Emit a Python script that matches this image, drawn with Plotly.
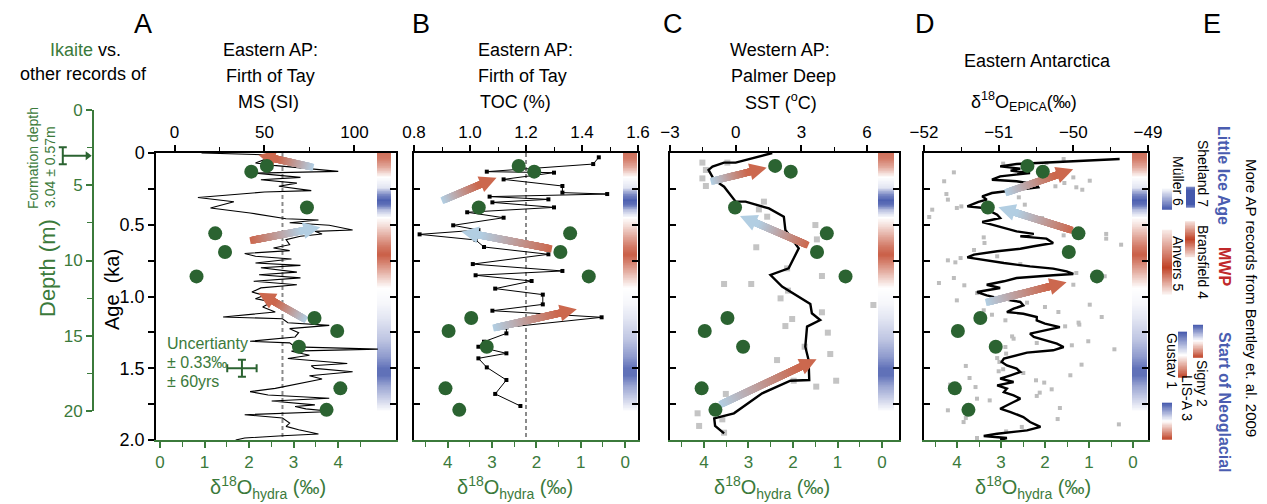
import numpy as np
import plotly.graph_objects as go

# the page body has an 8 px margin: the figure is drawn 8 px smaller and shifted
OFF = 8
W, H = 1267 - OFF, 504 - OFF
FONT = "Liberation Sans, Arial, Helvetica, sans-serif"
GREEN = "#3b7a3b"
DOT_GREEN = "#2b6331"
BLUE_TXT = "#4a5db0"
RED_TXT = "#c0282a"

# ---------------- data ----------------
# ikaite hydration-water d18O (bottom axes) vs age
hydra_age = [0.09, 0.13, 0.38, 0.56, 0.69, 0.86, 1.15, 1.24, 1.35, 1.64, 1.79]
hydra_d18o = [2.40, 2.05, 3.30, 1.24, 1.46, 0.82, 3.47, 3.98, 3.12, 4.05, 3.74]
uncert_d18o, uncert_age = 1.84, 1.50
uncert_err_d18o, uncert_err_age = 0.33, 0.06
formation_depth, formation_err = 3.04, 0.57

# A: magnetic susceptibility, Firth of Tay
ms_age = [0.00, 0.012, 0.046, 0.07, 0.086, 0.128, 0.14, 0.17, 0.186, 0.21, 0.232, 0.262, 0.272, 0.31, 0.34,
          0.383, 0.418, 0.44, 0.458, 0.467, 0.486, 0.504, 0.537, 0.546, 0.564, 0.58, 0.604, 0.639, 0.662, 0.68,
          0.70, 0.72, 0.739, 0.767, 0.783, 0.80, 0.83, 0.848, 0.87, 0.894, 0.918, 0.94, 0.969, 0.992, 1.015,
          1.038, 1.073, 1.108, 1.143, 1.155, 1.183, 1.201, 1.224, 1.252, 1.282, 1.312, 1.323, 1.351, 1.367,
          1.381, 1.409, 1.432, 1.467, 1.483, 1.501, 1.524, 1.552, 1.575, 1.605, 1.64, 1.663, 1.686, 1.709,
          1.728, 1.755, 1.767, 1.783, 1.801, 1.824, 1.847, 1.882, 1.905, 1.928, 1.958, 1.97, 1.986, 2.0]
ms_val = [15, 50, 50, 45, 55, 91, 45, 70, 48, 68, 58, 76, 50, 13, 33, 20, 42, 53, 62, 80, 64, 86, 99, 78, 82,
          70, 62, 64, 55, 64, 39, 45, 65, 45, 70, 48, 68, 47, 70, 44, 68, 48, 43, 50, 45, 54, 49, 56, 27, 60,
          63, 86, 64, 69, 67, 42, 64, 67, 113, 65, 75, 63, 96, 76, 78, 99, 75, 82, 69, 56, 42, 52, 86, 54, 78,
          67, 73, 88, 39, 60, 64, 62, 69, 80, 60, 39, 34]
ms_mean = 60

# B: total organic carbon, Firth of Tay
toc_age = [0.030, 0.077, 0.130, 0.137, 0.184, 0.230, 0.276, 0.286, 0.304, 0.323, 0.344, 0.379, 0.413, 0.451,
           0.504, 0.537, 0.567, 0.606, 0.655, 0.706, 0.774, 0.822, 0.852, 0.892, 0.945, 0.987, 1.055, 1.099,
           1.145, 1.215, 1.257, 1.315, 1.350, 1.396, 1.431, 1.494, 1.582, 1.679, 1.763]
toc_val = [1.46, 1.44, 1.06, 1.30, 1.12, 1.33, 1.33, 1.49, 1.07, 1.28, 1.08, 1.30, 0.99, 1.12, 0.94, 1.03,
           0.82, 1.02, 1.05, 1.28, 1.01, 1.33, 1.02, 1.22, 1.09, 1.26, 1.26, 1.08, 1.47, 1.13, 1.13, 1.05,
           1.03, 1.13, 1.03, 1.06, 1.13, 1.09, 1.18]
toc_mean = 1.2

# C: SST, Palmer Deep
sst_age = [0.0, 0.067, 0.067, 0.095, 0.118, 0.188, 0.235, 0.339, 0.339, 0.386, 0.444, 0.537, 0.664, 0.804,
           0.850, 0.931, 1.052, 1.117, 1.164, 1.210, 1.350, 1.443, 1.582, 1.587, 1.675, 1.814, 1.849, 1.902, 1.954]
sst_val = [1.67, 0.0, -0.53, -1.06, -1.24, -0.98, -0.53, 0.0, 0.45, 1.52, 2.2, 2.27, 2.88, 2.42, 1.59, 2.12,
           3.41, 3.48, 3.86, 3.26, 3.18, 3.33, 3.36, 2.5, 1.21, -0.08, -0.98, -0.94, -0.53]
sst_pts_age = [0.067, 0.067, 0.118, 0.177, 0.230, 0.339, 0.393, 0.444, 0.502, 0.602, 0.657, 0.804, 0.857,
               0.913, 0.913, 0.959, 1.013, 1.059, 1.110, 1.157, 1.206, 1.252, 1.350, 1.401, 1.443, 1.587,
               1.587, 1.628, 1.679, 1.814, 1.856, 1.902, 1.949]
sst_pts_val = [-1.52, -0.38, -1.36, -1.52, -1.36, 1.29, 1.06, 1.44, 3.64, 3.71, 0.94, 2.35, 3.94, -0.53, 0.71,
               2.39, 2.05, 6.29, 3.94, 2.58, 2.27, 4.21, 3.15, 4.32, 1.89, 4.59, 2.65, 3.68, -0.45, -1.74,
               -0.61, -1.67, -0.53]

# D: EPICA d18O
epica_age = [0.042, 0.077, 0.093, 0.109, 0.123, 0.139, 0.163, 0.186, 0.197, 0.221, 0.239, 0.256, 0.279,
             0.302, 0.325, 0.341, 0.360, 0.372, 0.383, 0.407, 0.430, 0.453, 0.481, 0.499, 0.523, 0.546,
             0.564, 0.581, 0.597, 0.616, 0.627, 0.650, 0.667, 0.685, 0.708, 0.727, 0.743, 0.767, 0.790,
             0.806, 0.825, 0.843, 0.852, 0.871, 0.894, 0.918, 0.941,
             0.969, 0.992, 1.015, 1.038, 1.062, 1.085, 1.108, 1.120, 1.143, 1.166, 1.189, 1.213, 1.236,
             1.259, 1.282, 1.305, 1.329, 1.352, 1.375, 1.391, 1.410, 1.433, 1.456, 1.480, 1.503, 1.526,
             1.549, 1.572, 1.596, 1.619, 1.642, 1.666, 1.689, 1.712, 1.735, 1.758, 1.782, 1.805, 1.840,
             1.875, 1.909, 1.933, 1.956, 1.972, 1.986, 2.0]
epica_val = [-49.38, -50.76, -50.98, -50.71, -50.84, -50.58, -50.98, -51.09, -50.76, -50.49, -50.47, -50.71,
             -51.09, -51.22, -51.16, -51.27, -51.38, -51.42, -51.20, -51.11, -51.02, -50.98, -51.22, -51.09,
             -50.93, -50.76, -50.53, -50.71, -50.36, -50.31, -50.27, -50.53, -50.71, -51.02, -51.33, -51.42,
             -51.24, -50.93, -50.58, -50.27, -50.09, -50.00, -50.27, -50.76, -50.93, -51.16, -50.98,
             -51.29, -51.16, -50.98, -50.71, -50.67, -50.80, -50.89, -50.67, -50.49, -50.49, -50.38, -50.18,
             -50.36, -50.58, -50.53, -50.36, -50.22, -50.13, -50.27, -50.62, -50.76, -50.93, -50.96, -50.89,
             -50.76, -50.71, -50.84, -50.98, -50.80, -51.02, -50.89, -50.93, -50.80, -50.71, -50.80, -50.89,
             -50.98, -50.84, -50.67, -50.58, -50.44, -50.62, -51.02, -51.20, -50.89, -50.98]
epica_pts_age = [0.042, 0.070, 0.074, 0.135, 0.197, 0.170, 0.193, 0.209, 0.232, 0.239, 0.256, 0.286, 0.325,
                 0.309, 0.383, 0.372, 0.395, 0.446, 0.360, 0.453, 0.574, 0.564, 0.597, 0.639, 0.588, 0.627,
                 0.676, 0.720, 0.732, 0.748, 0.762, 0.774, 0.871, 0.922, 0.906, 0.836, 0.859, 0.918, 0.976,
                 1.027, 1.096, 1.127, 1.166, 1.043, 1.073, 1.108, 1.057, 1.143, 1.182, 1.196, 1.208, 1.278,
                 1.294, 1.324, 1.312, 1.340, 1.368, 1.352, 1.398, 1.429, 1.456, 1.521, 1.507, 1.484, 1.533,
                 1.475, 1.549, 1.568, 1.584, 1.600, 1.614, 1.631, 1.647, 1.670, 1.693, 1.712, 1.724, 1.777,
                 1.793, 1.847, 1.875, 1.854, 1.891, 1.940, 1.909, 1.986]
epica_pts_val = [-50.13, -50.36, -50.94, -51.60, -51.73, -50.00, -49.78, -50.12, -50.24, -49.96, -49.88,
                 -51.70, -51.68, -50.73, -51.56, -51.50, -51.89, -51.93, -50.65, -50.42, -50.13, -49.56,
                 -49.56, -49.36, -51.20, -51.19, -51.33, -51.02, -51.51, -51.68, -51.58, -50.71, -51.60,
                 -51.46, -51.80, -49.96, -49.58, -50.00, -51.29, -51.56, -51.20, -51.09, -50.91, -50.62,
                 -50.38, -50.20, -49.78, -49.62, -49.93, -49.92, -50.11, -50.82, -50.80, -50.49, -49.80,
                 -50.02, -49.45, -50.91, -50.90, -51.02, -50.99, -51.00, -50.94, -51.44, -50.67, -49.89,
                 -50.04, -51.39, -50.50, -50.39, -51.65, -51.31, -50.29, -50.45, -50.49, -51.29, -51.12,
                 -50.18, -51.68, -51.44, -51.47, -50.21, -49.39, -50.90, -50.69, -51.29]

# climate-anomaly strip (red = warm / MWP, blue = cold / LIA, Neoglacial)
strip_age = [0.00, 0.04, 0.10, 0.17, 0.24, 0.29, 0.33, 0.36, 0.40, 0.45, 0.50, 0.58, 0.65, 0.71, 0.78,
             0.86, 0.94, 1.05, 1.15, 1.30, 1.42, 1.50, 1.55, 1.62, 1.72, 1.80, 2.00]
strip_val = [0.75, 0.7, 0.45, 0.0, -0.15, -0.7, -0.95, -0.85, -0.35, 0.0, 0.15, 0.45, 0.7, 0.85, 0.6,
             0.3, 0.0, -0.05, -0.15, -0.35, -0.6, -0.85, -0.85, -0.55, -0.25, 0.0, 0.0]

# arrows (bottom-axis units): panel, tail d18O, tail age, head d18O, head age, colour order
arrow_panel = [0, 0, 0, 1, 1, 1, 2, 2, 2, 3, 3, 3]
arrow_tail_d = [3.37, 2.10, 3.22, 4.06, 1.73, 2.90, 3.77, 1.73, 3.57, 2.83, 1.45, 3.27]
arrow_tail_a = [0.095, 0.606, 1.152, 0.323, 0.664, 1.215, 0.193, 0.634, 1.744, 0.270, 0.532, 1.036]
arrow_head_d = [2.21, 3.60, 2.21, 2.90, 3.69, 1.09, 2.59, 3.19, 1.47, 1.36, 3.06, 1.51]
arrow_head_a = [0.014, 0.518, 0.974, 0.172, 0.548, 1.089, 0.102, 0.439, 1.438, 0.114, 0.378, 0.901]
arrow_kind = ['br', 'rb', 'br', 'br', 'rb', 'br', 'br', 'rb', 'br', 'br', 'rb', 'br']

# panel E: other AP records (Bentley et al. 2009)
rec_names = ['Shetland 7', 'Müller 6', 'Bransfield 4', 'Anvers 5', 'Signy 2', 'LIS-A 3', 'Gustav 1']
rec_age = [[0.237, 0.26, 0.36, 0.383], [0.244, 0.397], [0.477, 0.60, 0.721], [0.537, 0.80, 0.990],
           [1.199, 1.31, 1.429], [1.247, 1.41, 1.568], [1.742, 1.87, 2.0]]
rec_val = [[-0.7, -1.0, -1.0, -0.7], [0.0, -1.0], [0.15, 1.0, 0.15], [0.1, 1.0, 0.05],
           [-1.0, 0.0, 1.0], [-1.0, 0.0, 1.0], [-1.0, 0.0, 1.0]]
rec_col_px = [(36, 45), (12, 22), (35, 45), (12, 22), (43, 53), (28, 37), (12, 22)]

# ---------------- geometry (page pixels) ----------------
PANEL_PX = [(156, 396), (414, 638), (670, 899), (924, 1148)]
Y_TOP, Y_BOT = 153, 440
TOP_RANGE = [[-10.3, 123.1], [0.8, 1.6], [-3.0, 7.46], [-52.0, -49.0]]
BOT_RANGE = [[-0.09, 5.30], [4.76, -0.29], [4.76, -0.38], [4.75, -0.34]]
STRIP_PX = [(377, 391), (623, 637), (878, 894), (1132, 1147)]


def fx(px):
    return (px - OFF) / W


def fy(py):
    return 1 - (py - OFF) / H


xt = ['x', 'x3', 'x5', 'x7']
xb = ['x2', 'x4', 'x6', 'x8']
ya = ['y', 'y2', 'y3', 'y4']

fig = go.Figure()
CS = [[0, 'rgb(68,88,172)'], [0.5, 'rgb(255,255,255)'], [1, 'rgb(192,66,38)']]

# strips
grid = np.arange(0, 2.0001, 0.005)
strip_fine = np.interp(grid, strip_age, strip_val)
for i in range(4):
    L, R = PANEL_PX[i]
    t0, t1 = TOP_RANGE[i]
    a, b = STRIP_PX[i]
    xe = [t0 + (a - L) / (R - L) * (t1 - t0), t0 + (b - L) / (R - L) * (t1 - t0)]
    fig.add_trace(go.Heatmap(x=xe, y=grid, z=strip_fine.reshape(-1, 1), colorscale=CS, zmin=-1, zmax=1,
                             showscale=False, xaxis=xt[i], yaxis=ya[i], hoverinfo='skip'))

# mean lines
for i, m in [(0, ms_mean), (1, toc_mean)]:
    fig.add_trace(go.Scatter(x=[m, m], y=[0, 2], mode='lines', xaxis=xt[i], yaxis=ya[i],
                             line=dict(color='#8a8a8a', width=2, dash='4px,3px')))

# records
fig.add_trace(go.Scatter(x=ms_val, y=ms_age, mode='lines', xaxis='x', yaxis='y',
                         line=dict(color='black', width=1.1)))
fig.add_trace(go.Scatter(x=toc_val, y=toc_age, mode='lines+markers', xaxis='x3', yaxis='y2',
                         line=dict(color='black', width=1),
                         marker=dict(symbol='square', size=4, color='black')))
fig.add_trace(go.Scatter(x=sst_pts_val, y=sst_pts_age, mode='markers', xaxis='x5', yaxis='y3',
                         marker=dict(symbol='square', size=6, color='#c4c4c4')))
fig.add_trace(go.Scatter(x=sst_val, y=sst_age, mode='lines', xaxis='x5', yaxis='y3',
                         line=dict(color='black', width=2.4)))
fig.add_trace(go.Scatter(x=epica_pts_val, y=epica_pts_age, mode='markers', xaxis='x7', yaxis='y4',
                         marker=dict(symbol='square', size=4, color='#bdbdbd')))
fig.add_trace(go.Scatter(x=epica_val, y=epica_age, mode='lines', xaxis='x7', yaxis='y4',
                         line=dict(color='black', width=2.4)))

# gradient arrows
C_BLUE = np.array([178, 206, 226])
C_RED = np.array([204, 104, 78])


def rgb(c):
    return 'rgb(%d,%d,%d)' % tuple(int(round(v)) for v in c)


for k in range(len(arrow_panel)):
    i = arrow_panel[k]
    L, R = PANEL_PX[i]
    b0, b1 = BOT_RANGE[i]

    def to_px(d, a):
        return L + (d - b0) / (b1 - b0) * (R - L), Y_TOP + a * (Y_BOT - Y_TOP) / 2.0

    def to_data(px, py):
        return b0 + (px - L) / (R - L) * (b1 - b0), (py - Y_TOP) / (Y_BOT - Y_TOP) * 2.0

    tx, ty = to_px(arrow_tail_d[k], arrow_tail_a[k])
    hx, hy = to_px(arrow_head_d[k], arrow_head_a[k])
    dx, dy = hx - tx, hy - ty
    ln = float(np.hypot(dx, dy))
    ux, uy = dx / ln, dy / ln
    nx, ny = -uy, ux
    c0, c1 = (C_BLUE, C_RED) if arrow_kind[k] == 'br' else (C_RED, C_BLUE)
    head_len = min(17.0, 0.4 * ln)
    hw = head_len * 0.5
    s = np.arange(0, ln - head_len * 0.8, 1.0)
    cols = [rgb(c0 + (c1 - c0) * min(1.0, si / (ln - head_len))) for si in s]
    pts = [to_data(tx + ux * si, ty + uy * si) for si in s]
    ang = float(np.degrees(np.arctan2(uy, ux)))
    fig.add_trace(go.Scatter(x=[p[0] for p in pts], y=[p[1] for p in pts], mode='markers',
                             xaxis=xb[i], yaxis=ya[i], hoverinfo='skip',
                             marker=dict(symbol='square', size=7, color=cols, angle=ang,
                                         line=dict(width=0))))
    bx, by = hx - ux * head_len, hy - uy * head_len
    poly = [(hx, hy), (bx + nx * hw, by + ny * hw), (bx - nx * hw, by - ny * hw), (hx, hy)]
    poly = [to_data(*p) for p in poly]
    fig.add_trace(go.Scatter(x=[p[0] for p in poly], y=[p[1] for p in poly], mode='lines', fill='toself',
                             fillcolor=rgb(c1), line=dict(width=0, color=rgb(c1)),
                             xaxis=xb[i], yaxis=ya[i], hoverinfo='skip'))

# ikaite dots
for i in range(4):
    fig.add_trace(go.Scatter(x=hydra_d18o, y=hydra_age, mode='markers', xaxis=xb[i], yaxis=ya[i],
                             marker=dict(size=14, color=DOT_GREEN)))

# uncertainty cross
fig.add_trace(go.Scatter(x=[uncert_d18o], y=[uncert_age], mode='markers', xaxis='x2', yaxis='y',
                         marker=dict(size=1, color='rgba(0,0,0,0)'),
                         error_x=dict(type='data', array=[uncert_err_d18o], color=DOT_GREEN, thickness=2, width=4),
                         error_y=dict(type='data', array=[uncert_err_age], color=DOT_GREEN, thickness=2, width=4)))

# empty trace for A right axis
fig.add_trace(go.Scatter(x=[None], y=[None], xaxis='x', yaxis='y5', showlegend=False))

# panel E record bars
for n in range(len(rec_names)):
    g = np.arange(rec_age[n][0], rec_age[n][-1] + 1e-9, 0.004)
    zz = np.interp(g, rec_age[n], rec_val[n])
    fig.add_trace(go.Heatmap(x=list(rec_col_px[n]), y=g, z=zz.reshape(-1, 1), colorscale=CS, zmin=-1, zmax=1,
                             showscale=False, xaxis='x9', yaxis='y6', hoverinfo='skip'))

# formation depth marker
fig.add_trace(go.Scatter(x=[0.43, 0.88], y=[formation_depth, formation_depth], mode='lines',
                         xaxis='x10', yaxis='y7', line=dict(color=DOT_GREEN, width=2)))
fig.add_trace(go.Scatter(x=[0.9], y=[formation_depth], mode='markers', xaxis='x10', yaxis='y7',
                         marker=dict(symbol='triangle-right', size=8, color=DOT_GREEN)))
fig.add_trace(go.Scatter(x=[0.43], y=[formation_depth], mode='markers', xaxis='x10', yaxis='y7',
                         marker=dict(size=1, color='rgba(0,0,0,0)'),
                         error_y=dict(type='data', array=[formation_err], color=DOT_GREEN, thickness=2, width=4)))

# ---------------- layout ----------------
ydom = [fy(Y_BOT), fy(Y_TOP)]
layout = dict(width=W, height=H, margin=dict(l=0, r=0, t=0, b=0, pad=0, autoexpand=False),
              paper_bgcolor='white', plot_bgcolor='rgba(0,0,0,0)', showlegend=False,
              font=dict(family=FONT, size=17, color='black'))

top_tick = [(0, 50, 25, None), (0.8, 0.2, 0.1, '.1f'), (-3, 3, 1.5, None), (-52, 1, 0.5, None)]
for i in range(4):
    L, R = PANEL_PX[i]
    kx = 'xaxis' if i == 0 else 'xaxis%d' % (2 * i + 1)
    kb = 'xaxis%d' % (2 * i + 2)
    ky = 'yaxis' if i == 0 else 'yaxis%d' % (i + 1)
    t0, dt, mn, fmt = top_tick[i]
    ax = dict(domain=[fx(L), fx(R)], range=TOP_RANGE[i], side='top', anchor=ya[i], showline=True,
              linecolor='black', linewidth=1.5, ticks='outside', ticklen=6, tickwidth=1.5, tickcolor='black',
              tickmode='linear', tick0=t0, dtick=dt, showgrid=False, zeroline=False, automargin=False,
              minor=dict(tick0=t0, dtick=mn, ticks='outside', ticklen=4, tickcolor='black', tickwidth=1.2),
              tickfont=dict(size=17, color='black'))
    if fmt:
        ax['tickformat'] = fmt
    layout[kx] = ax
    layout[kb] = dict(overlaying=xt[i], side='bottom', anchor=ya[i], range=BOT_RANGE[i], showline=True,
                      linecolor=GREEN, linewidth=2, ticks='outside', ticklen=6, tickwidth=1.5, tickcolor=GREEN,
                      tickmode='array', tickvals=[0, 1, 2, 3, 4], showgrid=False, zeroline=False,
                      automargin=False,
                      minor=dict(tickmode='array', tickvals=[0.5, 1.5, 2.5, 3.5, 4.5], ticks='outside',
                                 ticklen=5, tickcolor=GREEN, tickwidth=1.2),
                      tickfont=dict(size=17, color=GREEN))
    layout[ky] = dict(domain=ydom, range=[2, 0], anchor=xt[i], showline=True, linecolor='black', linewidth=1.5,
                      mirror=False if i == 0 else 'ticks', ticks='outside' if i == 0 else 'inside',
                      ticklen=6, tickwidth=1.5, tickcolor='black', tickmode='array',
                      tickvals=[0, 0.5, 1, 1.5, 2], ticktext=['0', '0.5', '1.0', '1.5', '2.0'],
                      showticklabels=(i == 0), showgrid=False, zeroline=False, automargin=False,
                      minor=dict(tickmode='array', tickvals=[0.25, 0.75, 1.25, 1.75],
                                 ticks='outside' if i == 0 else 'inside', ticklen=6, tickcolor='black',
                                 tickwidth=1.5),
                      tickfont=dict(size=18, color='black'))

layout['yaxis5'] = dict(overlaying='y', side='right', anchor='x', range=[2, 0], showline=True, linecolor='black',
                        linewidth=1.5, ticks='inside', ticklen=6, tickwidth=1.5, tickcolor='black',
                        tickmode='array', tickvals=[0, 0.25, 0.5, 0.75, 1, 1.25, 1.5, 1.75, 2],
                        showticklabels=False, showgrid=False, zeroline=False, automargin=False)
layout['xaxis9'] = dict(domain=[fx(1150), fx(1259)], range=[0, 109], visible=False, anchor='y6')
layout['yaxis6'] = dict(domain=ydom, range=[2, 0], visible=False, anchor='x9')
layout['xaxis10'] = dict(domain=[fx(40), fx(93)], range=[0, 1], visible=False, anchor='y7')
layout['yaxis7'] = dict(domain=[fy(411), fy(110)], range=[20, 0], anchor='free', position=fx(93), side='left',
                        showline=True, linecolor=GREEN, linewidth=2, ticks='outside', ticklen=6, tickwidth=1.5,
                        tickcolor=GREEN, tickmode='array', tickvals=[0, 5, 10, 15, 20], showgrid=False,
                        zeroline=False, automargin=False,
                        minor=dict(tickmode='array', tickvals=[2.5, 7.5, 12.5, 17.5], ticks='outside',
                                   ticklen=5, tickcolor=GREEN, tickwidth=1.2),
                        tickfont=dict(size=17, color=GREEN))

anns = []


def ann(text, px, py, size=18, color='black', angle=0, xanchor='center'):
    anns.append(dict(text=text, x=fx(px), y=fy(py), xref='paper', yref='paper', showarrow=False,
                     xanchor=xanchor, yanchor='middle', textangle=angle,
                     font=dict(family=FONT, size=size, color=color)))


for lab, px in [('A', 143), ('B', 421), ('C', 673), ('D', 925), ('E', 1212)]:
    ann(lab, px, 24, size=27)
ann('<span style="color:%s">Ikaite</span> vs.' % GREEN, 85, 50, size=18)
ann('other records of', 83, 74, size=18)
ann('Eastern AP:', 270, 50, size=18)
ann('Firth of Tay', 270, 76, size=18)
ann('MS (SI)', 268, 102, size=18)
ann('Eastern AP:', 525, 50, size=18)
ann('Firth of Tay', 522, 76, size=18)
ann('TOC (%)', 515, 102, size=18)
ann('Western AP:', 780, 50, size=18)
ann('Palmer Deep', 783, 76, size=18)
ann('SST (<sup>o</sup>C)', 781, 102, size=18)
ann('Eastern Antarctica', 1037, 61, size=18)
ann('δ<sup>18</sup>O<sub>EPICA</sub>(‰)', 1024, 102, size=18)
for cx in [268, 515, 772, 1033]:
    ann('δ<sup>18</sup>O<sub>hydra</sub> (‰)', cx, 487, size=20, color=GREEN)
ann('Age  (ka)', 112, 290, size=20, angle=-90)
ann('Depth (m)', 47, 268, size=22, color=GREEN, angle=-90)
ann('Formation depth', 33, 158, size=14, color=GREEN, angle=-90)
ann('3.04 ± 0.57m', 50, 167, size=14, color=GREEN, angle=-90)
ann('Uncertianty', 165, 343, size=16, color=GREEN, xanchor='left')
ann('± 0.33‰', 165, 362, size=16, color=GREEN, xanchor='left')
ann('± 60yrs', 165, 381, size=16, color=GREEN, xanchor='left')
# panel E texts
ann('More AP records from Bentley et. al. 2009', 1252, 298, size=15, angle=90)
ann('<b>Little Ice Age</b>', 1224, 175, size=16, color=BLUE_TXT, angle=90)
ann('<b>MWP</b>', 1225, 266, size=16, color=RED_TXT, angle=90)
ann('<b>Start of Neoglacial</b>', 1225, 402, size=16, color=BLUE_TXT, angle=90)
ann('Shetland 7', 1203, 173, size=14, angle=90)
ann('Bransfield 4', 1203, 262, size=14, angle=90)
ann('Müller 6', 1178, 181, size=14, angle=90)
ann('Anvers 5', 1178, 263, size=14, angle=90)
ann('Signy 2', 1202, 383, size=14, angle=90)
ann('LIS-A 3', 1187, 398, size=14, angle=90)
ann('Gustav 1', 1172, 361, size=14, angle=90)
layout['annotations'] = anns

fig.update_layout(**layout)
fig.write_html("out.html")
